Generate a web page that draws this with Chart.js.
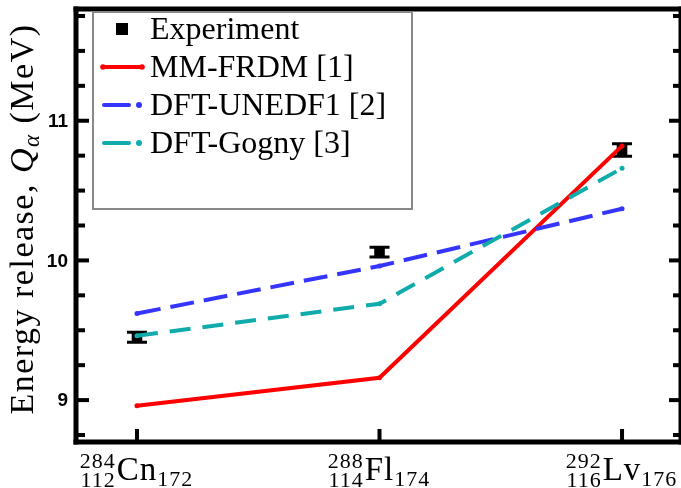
<!DOCTYPE html>
<html>
<head>
<meta charset="utf-8">
<script src="https://cdn.jsdelivr.net/npm/chart.js@4"></script>
<style>
  html, body { margin: 0; padding: 0; background: #fff; overflow: hidden; }
  #wrap { width: 681px; height: 488px; }
  #qalpha { display: block; }
</style>
</head>
<body>
<div id="wrap"><canvas id="qalpha" width="681" height="488"></canvas></div>
<script>
// nuclei along the x axis
const nucleiA = ['284', '288', '292'];
const nucleiZ = ['112', '114', '116'];
const nucleiSym = ['Cn', 'Fl', 'Lv'];
const nucleiN = ['172', '174', '176'];

// alpha decay energies, MeV
const expQ = [9.45, 10.06, 10.79];
const expErr = [0.035, 0.035, 0.045];
const frdmQ = [8.96, 9.16, 10.82];
const unedfQ = [9.62, 9.96, 10.37];
const gognyQ = [9.46, 9.69, 10.66];

const seriesNames = ['Experiment', 'MM-FRDM [1]', 'DFT-UNEDF1 [2]', 'DFT-Gogny [3]'];
const seriesColors = ['#000000', '#ff0000', '#3535ff', '#10abab'];

const yMajor = [9, 10, 11];
const yLabels = ['9', '10', '11'];

const SERIF = '"Liberation Serif", "DejaVu Serif", serif';
const SANS = '"Liberation Sans", Arial, sans-serif';

function toPoints(vals) {
    return vals.map((v, i) => ({ x: i, y: v }));
}

// axes box, ticks, labels, legend and error bars
const decor = {
    id: 'decor',
    beforeDatasetsDraw(chart) {
        const ctx = chart.ctx, xs = chart.scales.x, ys = chart.scales.y;
        ctx.save();
        ctx.strokeStyle = '#000';
        ctx.lineWidth = 3;
        expQ.forEach((q, i) => {
            const px = xs.getPixelForValue(i);
            const top = ys.getPixelForValue(q + expErr[i]);
            const bot = ys.getPixelForValue(q - expErr[i]);
            ctx.beginPath();
            ctx.moveTo(px, top); ctx.lineTo(px, bot);
            ctx.moveTo(px - 10, top); ctx.lineTo(px + 10, top);
            ctx.moveTo(px - 10, bot); ctx.lineTo(px + 10, bot);
            ctx.stroke();
        });
        ctx.restore();
    },
    afterDraw(chart) {
        const ctx = chart.ctx, xs = chart.scales.x, ys = chart.scales.y;
        const a = chart.chartArea;
        ctx.save();
        ctx.fillStyle = '#000';

        // frame
        ctx.fillRect(a.left - 2.5, a.top - 2.5, 5, a.bottom - a.top + 5);
        ctx.fillRect(a.left - 2.5, a.top - 2.5, a.right - a.left + 5, 5);
        ctx.fillRect(a.left - 2.5, a.bottom - 2.5, a.right - a.left + 5, 5);
        ctx.fillRect(a.right - 1.5, a.top - 2.5, 3, a.bottom - a.top + 5);

        // y ticks, inward on both sides
        for (let v = 8.75; v < 11.8; v += 0.25) {
            const py = ys.getPixelForValue(v);
            const major = yMajor.includes(v);
            const len = major ? 13 : 9;
            ctx.fillRect(a.left, py - 2, len, 4);
            ctx.fillRect(a.right - len + 2, py - 2, len - 2, 4);
        }

        // x ticks
        nucleiSym.forEach((s, i) => {
            const px = xs.getPixelForValue(i);
            ctx.fillRect(px - 2, a.bottom - 13, 4, 13);
        });

        // y tick labels
        ctx.font = 'bold 19px ' + SANS;
        ctx.textAlign = 'right';
        ctx.textBaseline = 'middle';
        yMajor.forEach((v, i) => {
            ctx.fillText(yLabels[i], 68, ys.getPixelForValue(v) + 1);
        });

        // x labels: mass and charge number before the symbol, neutrons after
        ctx.textBaseline = 'alphabetic';
        ctx.letterSpacing = '1px';
        nucleiSym.forEach((s, i) => {
            const px = xs.getPixelForValue(i);
            ctx.font = '22px ' + SERIF;
            const pre = Math.max(ctx.measureText(nucleiA[i]).width, ctx.measureText(nucleiZ[i]).width);
            const post = ctx.measureText(nucleiN[i]).width;
            ctx.font = '33px ' + SERIF;
            const mid = ctx.measureText(s).width;
            const x0 = px - (pre + mid + post + 2) / 2;
            ctx.font = '22px ' + SERIF;
            ctx.textAlign = 'right';
            ctx.fillText(nucleiA[i], x0 + pre, 468);
            ctx.fillText(nucleiZ[i], x0 + pre, 487);
            ctx.textAlign = 'left';
            ctx.font = '33px ' + SERIF;
            ctx.fillText(s, x0 + pre + 1, 480);
            ctx.font = '22px ' + SERIF;
            ctx.fillText(nucleiN[i], x0 + pre + mid + 1, 486);
        });

        // y axis title
        ctx.save();
        ctx.translate(33, 219);
        ctx.rotate(-Math.PI / 2);
        ctx.letterSpacing = '1.5px';
        const parts = [
            { t: 'Energy release, ', f: '34px ' + SERIF, dy: 0 },
            { t: 'Q', f: 'italic 34px ' + SERIF, dy: 0 },
            { t: 'α', f: 'italic 23px ' + SERIF, dy: 6 },
            { t: ' (MeV)', f: '34px ' + SERIF, dy: 0 }
        ];
        let total = 0;
        parts.forEach(p => { ctx.font = p.f; p.w = ctx.measureText(p.t).width; total += p.w; });
        let cx = -total / 2;
        parts.forEach(p => {
            ctx.font = p.f;
            ctx.fillText(p.t, cx, p.dy);
            cx += p.w;
        });
        ctx.restore();
        ctx.letterSpacing = '0px';

        // legend
        ctx.fillStyle = '#fff';
        ctx.fillRect(93, 12, 319, 197);
        ctx.strokeStyle = '#888';
        ctx.lineWidth = 2;
        ctx.strokeRect(93, 12, 319, 197);
        ctx.font = '32px ' + SERIF;
        seriesNames.forEach((name, i) => {
            const base = 39 + 38 * i;
            const my = base - 10;
            ctx.fillStyle = seriesColors[i];
            ctx.strokeStyle = seriesColors[i];
            ctx.lineWidth = 4;
            if (i === 0) {
                ctx.fillRect(116, my - 6, 12, 12);
            } else if (i === 1) {
                ctx.beginPath(); ctx.moveTo(103, my); ctx.lineTo(142, my); ctx.stroke();
                ctx.beginPath(); ctx.arc(103, my, 2.8, 0, Math.PI * 2); ctx.fill();
                ctx.beginPath(); ctx.arc(142, my, 2.8, 0, Math.PI * 2); ctx.fill();
            } else {
                ctx.lineCap = 'round';
                ctx.beginPath(); ctx.moveTo(104, my); ctx.lineTo(129, my); ctx.stroke();
                ctx.lineCap = 'butt';
                ctx.beginPath(); ctx.arc(139, my, 3, 0, Math.PI * 2); ctx.fill();
            }
            ctx.fillStyle = '#000';
            ctx.fillText(name, 150, base);
        });
        ctx.restore();
    }
};

function lineSet(label, vals, color, dash, order) {
    return {
        type: 'line',
        label: label,
        data: toPoints(vals),
        borderColor: color,
        backgroundColor: color,
        borderWidth: 4,
        borderDash: dash,
        pointRadius: 2.5,
        pointBorderWidth: 0,
        fill: false,
        tension: 0,
        order: order
    };
}

function drawChart() {
    new Chart(document.getElementById('qalpha').getContext('2d'), {
        type: 'scatter',
        data: {
            datasets: [
                {
                    type: 'scatter',
                    label: seriesNames[0],
                    data: toPoints(expQ),
                    pointStyle: 'rect',
                    pointRadius: 7.5,
                    pointBorderWidth: 0,
                    backgroundColor: seriesColors[0],
                    order: 10
                },
                lineSet(seriesNames[1], frdmQ, seriesColors[1], [], 3),
                lineSet(seriesNames[2], unedfQ, seriesColors[2], [24, 10], 2),
                lineSet(seriesNames[3], gognyQ, seriesColors[3], [21, 12], 1)
            ]
        },
        options: {
            responsive: false,
            devicePixelRatio: 1,
            animation: false,
            layout: { autoPadding: false, padding: { left: 76, top: 9, right: 1, bottom: 46 } },
            scales: {
                x: { type: 'linear', display: false, min: -0.2515, max: 2.239, ticks: { display: false } },
                y: { type: 'linear', display: false, min: 8.70, max: 11.80, ticks: { display: false } }
            },
            plugins: {
                legend: { display: false },
                tooltip: { enabled: false }
            }
        },
        plugins: [decor]
    });
}

document.fonts.load('32px "Liberation Serif"').then(drawChart, drawChart);
</script>
</body>
</html>
